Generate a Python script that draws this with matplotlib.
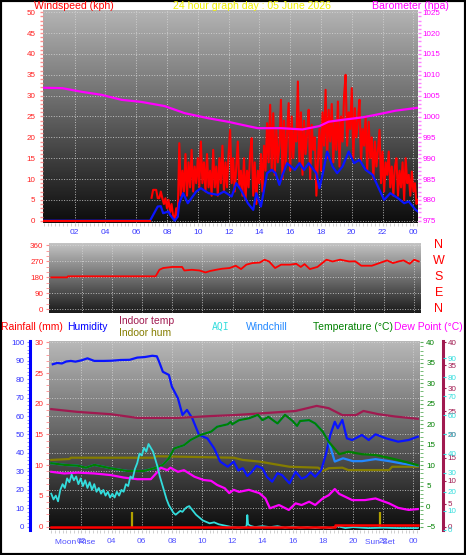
import numpy as np
import matplotlib.pyplot as plt
from matplotlib.colors import LinearSegmentedColormap
from matplotlib.patches import Rectangle
from matplotlib.ticker import MultipleLocator
import matplotlib.transforms as mtransforms

plt.rcParams['font.family'] = ['Liberation Sans', 'DejaVu Sans']

# ---- panel 1: wind speed / gust / barometer ----
wind_hours = [0, 6.9, 7.4, 7.6, 7.75, 8.1, 8.2, 8.5, 8.7, 8.8, 9.05, 9.35, 9.9, 10.2, 10.7, 11.3,
              11.7, 12.2, 12.5, 12.8, 13.25, 13.6, 13.8, 14.1, 14.5, 14.8, 15.05, 15.3, 15.5, 15.8,
              16.3, 16.6, 16.9, 17.2, 17.7, 17.9, 18.1, 18.4, 18.75, 19.05, 19.4, 19.8, 20.15,
              20.5, 20.9, 21.35, 21.8, 22.1, 22.5, 23.0, 23.4, 23.7, 24.15, 24.3]
wind_avg = [0, 0, 3.4, 3.5, 1.8, 2.2, 1.4, 0, 1.0, 4.2, 6.6, 4.2, 7.0, 7.8, 6.6, 6.2,
            7.0, 5.8, 9.0, 7.4, 4.2, 2.6, 6.6, 3.4, 11.4, 12.2, 11.4, 8.6, 11.0, 13.8,
            12.2, 13.8, 12.2, 13.8, 11.4, 7.8, 11.0, 16.6, 13.0, 11.4, 13.0, 16.6, 13.8,
            14.6, 12.2, 11.0, 7.4, 5.0, 6.6, 5.4, 4.2, 4.6, 2.6, 2.2]

gust_calm_hours = [0, 6.9]
gust_calm = [0, 0]
# gusts sampled every 6 minutes from 07:00 to 00:18
gust = [5.5, 7.4, 7.4, 7.4, 5.4, 5.4, 7.0, 5.4, 4.0, 5.4, 3.0, 5.0, 2.0, 4.0, 1.0, 0.5, 3.0, 1.0, 18.6, 6.0,
        12, 7, 16, 6, 14, 8, 17, 7, 13, 9,
        15, 8, 19, 9, 14, 7, 16, 8, 12, 6,
        17, 8, 13, 6, 15, 9, 18, 7, 14, 8,
        16, 21.8, 9, 15, 7, 13, 19, 8, 12, 6,
        15, 5, 12, 8, 16, 19.8, 6, 14, 4, 12,
        9, 16, 7, 18, 12, 23.4, 14, 27.8, 12, 25.8,
        11, 22, 14, 18, 29, 10, 24, 13, 21, 28.2,
        12, 25, 15, 22, 19, 33.4, 14, 26, 11, 24,
        16, 21, 26.6, 10, 23, 17, 20, 6, 14, 22,
        12, 26, 18, 31.4, 15, 26.6, 19, 28, 14, 24,
        17, 28.6, 13, 25, 19, 30, 35, 18, 26, 22,
        31.8, 15, 27, 20, 24, 29, 14, 22, 18, 25,
        12, 23.75, 15, 20, 10, 19, 13, 17, 21.8, 9,
        16.6, 7, 14, 11, 16.6, 8, 13, 6, 13, 15,
        6, 12, 8, 14, 5, 15, 9, 11, 6, 11.8,
        7, 9, 4, 5]
gust_hours = np.arange(70, 70 + len(gust)) / 10

baro_hours = [0, 1.2, 2.5, 3.75, 5.05, 6.34, 7.85, 9.15, 10.66, 11.95, 13.25, 13.9, 15.4, 16.8,
              17.9, 18.5, 19.4, 20.7, 21.55, 22.85, 24.3]
baro = [1006.9, 1006.8, 1005.9, 1005.2, 1004.0, 1003.5, 1002.5, 1000.8, 999.6, 998.75, 997.7,
        997.2, 997.2, 996.9, 997.7, 998.75, 999.2, 999.8, 1000.4, 1001.4, 1002.1]

# ---- panel 2: wind direction ----
dir_hours = [0, 1.05, 1.1, 6.9, 7.15, 7.4, 8.0, 8.65, 8.8, 9.3, 9.8, 10.2, 10.5, 10.9, 11.3, 11.8,
             12.2, 12.55, 12.9, 13.3, 13.8, 14.1, 14.4, 14.8, 15.2, 15.8, 16.2, 16.5, 16.75, 17.1,
             17.6, 18.2, 18.6, 19.1, 19.7, 20.1, 20.5, 21.2, 21.7, 22.2, 22.6, 23.0, 23.3, 23.7,
             24.0, 24.3]
wind_dir = [179, 179, 185, 185, 222, 232, 238, 238, 218, 222, 218, 207, 215, 222, 228, 232,
            245, 226, 251, 260, 263, 279, 269, 232, 251, 251, 256, 238, 254, 226,
            238, 279, 269, 279, 269, 270, 245, 245, 260, 275, 260, 270, 275, 256,
            279, 269]
compass = ['N', 'W', 'S', 'E', 'N']
compass_deg = [360, 270, 180, 90, 0]

# ---- panel 3: humidity, temperatures, AQI, rain ----
hum_hours = [0.1, 0.4, 0.7, 1.0, 1.3, 1.6, 2.0, 2.4, 2.85, 3.5, 4.0, 4.6, 5.2, 5.7, 6.2, 6.7, 7.0,
             7.15, 7.4, 7.8, 8.0, 8.4, 8.7, 9.0, 9.35, 9.8, 10.35, 10.8, 11.2, 11.7, 12.1, 12.4,
             12.7, 13.0, 13.3, 13.6, 14.0, 14.3, 14.65, 15.0, 15.3, 15.8, 16.2, 16.6, 16.9,
             17.2, 17.5, 17.9, 18.2, 18.5, 18.8, 19.0, 19.3, 19.6, 19.95, 20.6, 21.05, 21.5,
             22.2, 23.0, 23.7, 24.3]
humidity = [88.1, 88.8, 88.5, 89.6, 89.9, 89.5, 90.2, 91.3, 89.9, 89.9, 90.0, 90.4, 90.5, 91.7,
            92.0, 92.7, 92.4, 89.5, 84.0, 82.3, 75.9, 69.6, 60.6, 63.3, 58.8, 49.7, 47.9, 42.5,
            35.3, 32.5, 35.3, 30.5, 31.7, 27.5, 29.8, 33.0, 31.7, 27.0, 24.4, 29.0, 28.0, 23.5,
            29.8, 26.0, 27.1, 29.5, 27.1, 30.7, 38.9, 49.7, 56.9, 53.4, 57.9, 47.9, 47.0, 49.7,
            47.0, 50.1, 47.9, 46.1, 47.0, 48.8]

indoor_hours = [0, 1.75, 3.95, 5.7, 8.4, 10.6, 12.1, 14.0, 16.2, 17.6, 18.4, 19.3, 20.2, 20.7,
                21.7, 22.8, 24.3]
indoor_temp = [25.5, 24.9, 24.4, 23.6, 23.6, 24.0, 24.2, 24.6, 25.1, 26.2, 25.7, 24.2, 24.2,
               25.1, 24.4, 23.9, 23.4]
inhum_hours = [0, 1.2, 1.3, 6.8, 7.0, 12.1, 12.7, 13.8, 15.8, 17.7, 18.0, 18.4, 19.3, 19.7,
               22.4, 22.6, 24.3]
indoor_hum = [36.2, 36.7, 37.4, 37.4, 38.2, 37.4, 36.2, 35.3, 32.5, 32.0, 30.2, 31.7, 32.0,
              30.7, 30.7, 32.5, 32.5]

temp_hours = [0, 0.86, 1.75, 2.3, 2.85, 3.95, 5.05, 6.15, 6.8, 7.4, 7.8, 8.15, 8.8, 9.25, 9.9,
              10.6, 11.0, 11.7, 11.9, 12.0, 12.45, 13.1, 13.7, 14.0, 14.4, 15.0, 15.5, 16.0,
              16.3, 16.5, 17.1, 17.5, 18.0, 18.4, 19.1, 19.7, 20.6, 21.5, 22.4, 23.3, 24.3]
temperature = [10.5, 10.1, 9.9, 9.4, 10.1, 9.25, 8.6, 8.6, 9.25, 10.1, 11.7, 14.1, 14.9, 16.2,
               17.4, 18.2, 19.4, 20.0, 20.6, 20.0, 21.0, 21.45, 22.3, 21.0, 21.8, 20.2, 22.3,
               20.8, 19.6, 20.8, 21.0, 20.2, 18.2, 15.7, 12.7, 13.3, 12.7, 12.5, 11.8, 11.0, 10.0]
windchill_hours = temp_hours[:34] + [18.8, 19.35, 20.0, 20.6, 21.5, 22.4, 23.3, 24.3]
windchill = temperature[:34] + [10.9, 11.7, 11.0, 11.0, 11.5, 11.0, 10.4, 9.9]

dew_hours = [0, 0.86, 1.75, 2.85, 3.95, 4.8, 5.7, 6.6, 7.05, 7.25, 7.7, 7.9, 8.4, 8.8, 9.5,
             10.1, 10.6, 11.0, 11.5, 11.8, 12.1, 12.45, 13.1, 13.8, 14.2, 14.5, 15.1, 15.75,
             16.2, 16.6, 17.1, 17.5, 18.0, 18.4, 18.8, 19.1, 19.5, 19.95, 20.8, 21.5, 22.4,
             23.0, 23.7, 24.3]
dew_point = [8.4, 8.0, 8.2, 8.0, 7.6, 7.0, 6.6, 6.6, 8.4, 9.4, 8.8, 9.4, 8.4, 8.8, 7.2, 6.4,
             6.2, 5.2, 4.4, 3.2, 4.0, 3.5, 4.0, 3.2, 1.9, -0.5, 0.3, -0.9, 0.7, 0.3, 1.1, 0.3,
             1.9, 2.7, 4.2, 3.0, 2.3, 1.5, 1.5, 1.9, 0.7, -0.4, -0.9, -0.7]

aqi_hours = [0.0, 0.15, 0.3, 0.45, 0.6, 0.75, 0.9, 1.05, 1.2, 1.35, 1.5, 1.65, 1.8, 1.95, 2.1,
             2.25, 2.4, 2.55, 2.7, 2.85, 3.0, 3.15, 3.3, 3.45, 3.6, 3.75, 3.9, 4.05, 4.2, 4.35,
             4.5, 4.65, 4.8, 4.95, 5.1, 5.25, 5.4, 5.55, 5.7, 5.85, 6.0, 6.15, 6.3, 6.45, 6.6,
             6.75, 6.9, 7.05, 7.2, 7.35, 7.5, 7.65, 7.8, 7.95, 8.1, 8.25, 8.4, 8.55, 8.7, 8.85,
             9.0, 9.15, 9.3, 9.45, 9.6, 9.75, 9.9, 10.05, 10.2, 10.35, 10.5, 10.8, 11.1, 11.4,
             11.7, 12.0, 12.4, 12.8, 12.95, 13.0, 13.05, 13.2, 13.5, 14.0, 14.5, 15.0, 15.5,
             16.0, 16.5, 17.0, 17.5, 18.0, 18.5, 19.0, 19.5, 20.0, 21.0, 22.0, 23.0, 24.3]
aqi = [19, 16, 18, 15, 21, 24, 22, 27, 25, 29, 26, 28, 24, 27, 23, 26, 22, 25, 21, 24, 20, 22,
       19, 21, 18, 20, 17, 19, 17, 20, 18, 21, 20, 24, 23, 28, 27, 32, 35, 40, 39, 43, 41, 45,
       43, 41, 37, 33, 28, 24, 20, 16, 13, 11, 9, 8, 9, 10, 9.5, 11, 12, 12.5, 11, 9.5, 8, 7,
       6, 5, 4.5, 4, 3.5, 4, 3, 2.5, 2, 1.5, 1.2, 1.5, 2, 7.8, 3, 2.2, 1.5, 2, 1.5, 2, 1.2,
       1.8, 1.2, 1.5, 1, 1.5, 1, 2, 1, 1.5, 1, 1.2, 1, 1]

rain_hours = [0, 18.8, 18.8, 24.3]
rain = [0, 0, 0.2, 0.2]

sun_marker_hours = [5.35, 21.8]
event_labels = ['Moon Rise', 'Sun Set']
event_hours = [1.6, 21.8]

hour_ticks = list(range(2, 25, 2))
hour_labels = ['%02d' % (h % 24) for h in hour_ticks]

# ---- figure layout in pixels ----
W, H = 466, 555
fig = plt.figure(figsize=(W / 100, H / 100), dpi=100)
fig.patch.set_facecolor('white')


def box(x0, y0, x1, y1):
    return [x0 / W, 1 - y1 / H, (x1 - x0) / W, (y1 - y0) / H]


def background(rect, top, bottom):
    bg = fig.add_axes(rect, zorder=-1)
    cmap = LinearSegmentedColormap.from_list('bg', [bottom, top])
    bg.imshow(np.linspace(0, 1, 256).reshape(-1, 1), aspect='auto', cmap=cmap,
              origin='lower', extent=[0, 1, 0, 1])
    bg.axis('off')


def clean(ax):
    for s in ax.spines.values():
        s.set_visible(False)
    ax.set_facecolor('none')


grid_kw = dict(color='#d8d8d8', linestyle=':', linewidth=0.7, alpha=0.8)
blue_lbl = '#3c3cff'

# panel 1
r1 = box(43, 10, 418, 223)
background(r1, '#b4b4b4', '#0c0c0c')
ax1 = fig.add_axes(r1)
clean(ax1)
ax1.plot(gust_hours, gust, color='#ff0000', lw=1.5, zorder=3)
ax1.plot(wind_hours, wind_avg, color='#0a14ff', lw=1.6, zorder=4)
ax1.plot(gust_calm_hours, gust_calm, color='#ff0000', lw=1.5, zorder=5)
ax1.set_xlim(-0.05, 24.3)
ax1.set_ylim(-0.55, 50.55)
ax1.set_yticks(range(0, 51, 5))
ax1.yaxis.set_minor_locator(MultipleLocator(1))
ax1.set_xticks(hour_ticks)
ax1.set_xticklabels(hour_labels)
ax1.xaxis.set_minor_locator(MultipleLocator(0.25))
ax1.tick_params(axis='y', which='both', colors='#ff8c8c', labelcolor='#ff2020', labelsize=5.8,
                length=2.5, width=1, pad=3)
ax1.tick_params(axis='x', which='both', colors='#c8c8c8', labelcolor=blue_lbl, labelsize=6,
                length=2.5, pad=2)
ax1.grid(True, **grid_kw)

ax1b = ax1.twinx()
clean(ax1b)
ax1b.plot(baro_hours, baro, color='#ff00ff', lw=1.6, zorder=5)
ax1b.set_ylim(974.45, 1025.55)
ax1b.set_yticks(range(975, 1026, 5))
ax1b.yaxis.set_minor_locator(MultipleLocator(1))
ax1b.tick_params(axis='y', which='both', colors='#ff80ff', labelcolor='#ff00ff', labelsize=5.8,
                 length=2.5, width=1, pad=1)

fig.text(34 / W, 1 - 6 / H, 'Windspeed (kph)', color='#ff0000', fontsize=7.6, va='center')
fig.text(252 / W, 1 - 6 / H, '24 hour graph day : 05 June 2026', color='#f0f000',
         fontsize=7.6, va='center', ha='center')
fig.text(372 / W, 1 - 6 / H, 'Barometer (hpa)', color='#ff00ff', fontsize=7.6, va='center')

# panel 2
r2 = box(49, 243, 421, 313)
background(r2, '#c4c4c4', '#1a1a1a')
ax2 = fig.add_axes(r2)
clean(ax2)
ax2.plot(dir_hours, wind_dir, color='#ff0000', lw=1.3)
ax2.set_xlim(-0.15, 24.45)
ax2.set_ylim(-22.6, 373.6)
ax2.set_yticks(compass_deg[::-1])
ax2.yaxis.set_minor_locator(MultipleLocator(30))
ax2.set_xticks(hour_ticks)
ax2.tick_params(axis='x', length=0, labelbottom=False)
ax2.tick_params(axis='y', which='both', colors='#ff8c8c', labelcolor='#ff2020', labelsize=5.8,
                length=2, pad=2)
ax2.grid(True, **grid_kw)
tr2 = mtransforms.blended_transform_factory(ax2.transAxes, ax2.transData)
for lab, deg in zip(compass, compass_deg):
    ax2.text(1.048, deg, lab, transform=tr2, color='#ff0000', fontsize=9,
             ha='center', va='center')

# panel 3 headers
hdr_y = 1 - 327 / H
fig.text(1 / W, hdr_y, 'Rainfall (mm)', color='#ff0000', fontsize=7.5, va='center')
fig.text(67 / W, hdr_y, 'Humidity', color='#0000ff', fontsize=7.5, va='center')
fig.text(119 / W, 1 - 321 / H, 'Indoor temp', color='#a01a50', fontsize=7.5, va='center')
fig.text(119 / W, 1 - 333 / H, 'Indoor hum', color='#857d00', fontsize=7.5, va='center')
fig.text(212 / W, hdr_y, 'AQI', color='#33dddd', fontsize=7, va='center',
         family=['DejaVu Sans Mono'])
fig.text(246 / W, hdr_y, 'Windchill', color='#2288ff', fontsize=7.5, va='center')
fig.text(313 / W, hdr_y, 'Temperature (°C)', color='#008000', fontsize=7.5, va='center')
fig.text(394 / W, hdr_y, 'Dew Point (°C)', color='#ff00ff', fontsize=7.5, va='center')

# panel 3
r3 = box(49, 341, 420, 530)
background(r3, '#b8b8b8', '#0c0c0c')
ax3 = fig.add_axes(r3)
clean(ax3)
ax3.set_xlim(-0.15, 24.45)
ax3.set_ylim(-1.8, 100.7)
ax3.plot(inhum_hours, indoor_hum, color='#857d00', lw=1.6)
ax3.plot(hum_hours, humidity, color='#0a14ff', lw=1.6)
ax3.vlines(sun_marker_hours, 0, 8, color='#b0a000', lw=1.6)
ax3.spines['left'].set_visible(True)
ax3.spines['left'].set_position(('axes', -0.0512))
ax3.spines['left'].set_color('#0000ff')
ax3.spines['left'].set_linewidth(2.2)
ax3.spines['left'].set_bounds(-1.8, 100.7)
ax3.set_yticks(range(0, 101, 10))
ax3.yaxis.set_minor_locator(MultipleLocator(2))
ax3.tick_params(axis='y', which='both', colors='#8080ff', labelcolor='#3030ff', labelsize=5.8,
                length=2.5, pad=1.5)
ax3.set_xticks(hour_ticks)
ax3.set_xticklabels(hour_labels)
ax3.xaxis.set_minor_locator(MultipleLocator(0.25))
ax3.tick_params(axis='x', which='both', colors='#c8c8c8', labelcolor='#5050ff', labelsize=6,
                length=2.5, pad=3)
ax3.grid(True, **grid_kw)
tr3 = mtransforms.blended_transform_factory(ax3.transData, ax3.transAxes)
for lab, h in zip(event_labels, event_hours):
    ax3.text(h, -0.068, lab, transform=tr3, color='#5050ff', fontsize=6,
             ha='center', va='center')

axI = ax3.twinx()
clean(axI)
axI.plot(indoor_hours, indoor_temp, color='#a01a50', lw=1.6)
axI.set_ylim(-0.72, 40.28)
axI.spines['right'].set_visible(True)
axI.spines['right'].set_position(('axes', 1.062))
axI.spines['right'].set_color('#a01a50')
axI.spines['right'].set_linewidth(2.2)
axI.set_yticks(range(0, 41, 5))
axI.tick_params(axis='y', colors='#a01a50', labelcolor='#a01a50', labelsize=5.8,
                length=2, pad=1.5)

axT = ax3.twinx()
clean(axT)
axT.plot(windchill_hours, windchill, color='#2288ff', lw=1.6)
axT.plot(temp_hours, temperature, color='#008000', lw=1.6)
axT.plot(dew_hours, dew_point, color='#ff00ff', lw=1.6)
axT.set_ylim(-5.8, 40.32)
axT.set_yticks(range(-5, 41, 5))
axT.yaxis.set_minor_locator(MultipleLocator(1))
axT.tick_params(axis='y', which='both', colors='#60b060', labelcolor='#008000', labelsize=5.8,
                length=2.5, pad=2)

axA = ax3.twinx()
clean(axA)
axA.plot(aqi_hours, aqi, color='#33dddd', lw=1.3)
axA.set_ylim(0, 98.9)
axA.spines['right'].set_position(('axes', 1.062))
axA.set_yticks(range(0, 91, 10))
axA.tick_params(axis='y', colors='#33dddd', labelcolor='#33dddd', labelsize=5.8,
                length=2, pad=1.5)

axR = ax3.twinx()
clean(axR)
axR.plot(rain_hours, rain, color='#ff0000', lw=1.8)
axR.set_ylim(-0.54, 30.21)
axR.yaxis.tick_left()
axR.set_yticks(range(0, 31, 5))
axR.yaxis.set_minor_locator(MultipleLocator(1))
axR.tick_params(axis='y', which='both', colors='#ff8c8c', labelcolor='#ff2020', labelsize=5.8,
                length=2.5, pad=1.5)

fig.add_artist(Rectangle((0, 0), 1, 1, transform=fig.transFigure, fill=False,
                         edgecolor='black', lw=3))

fig.savefig('out.png', dpi=100)
